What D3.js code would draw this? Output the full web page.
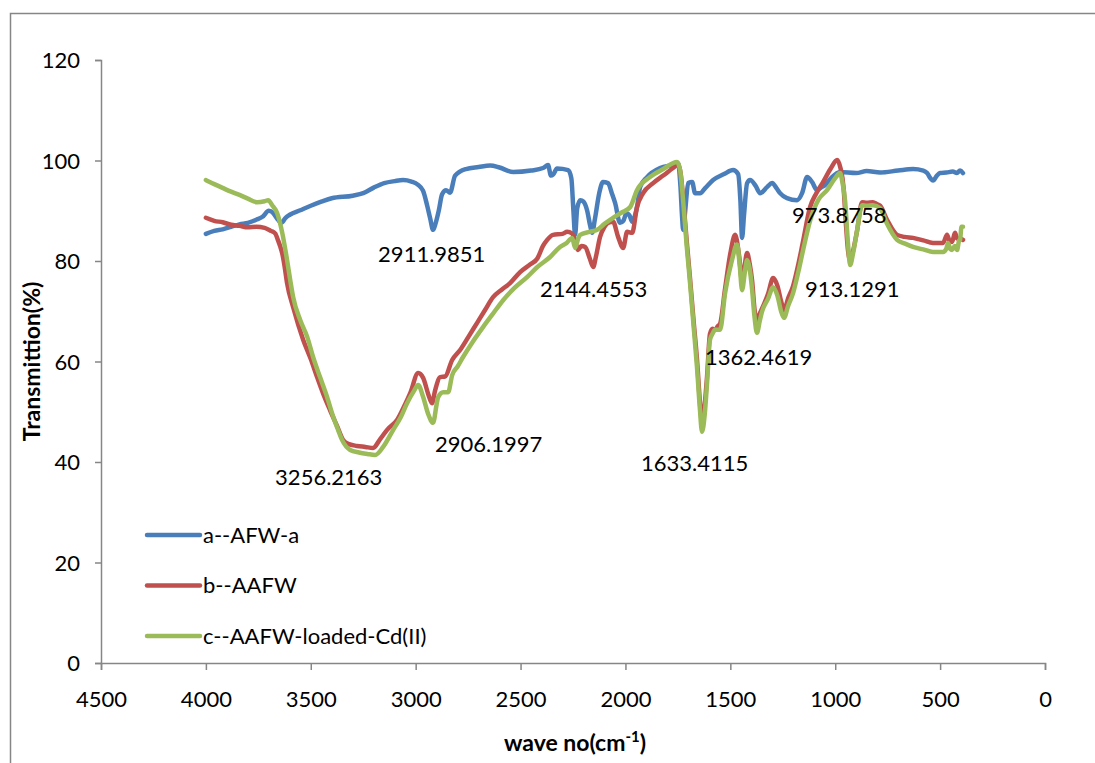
<!DOCTYPE html>
<html>
<head>
<meta charset="utf-8">
<script src="https://cdn.jsdelivr.net/npm/d3@7"></script>
<style>
    body { margin: 0; background: #fff; }
    text { font-family: Lato, "Noto Sans", sans-serif; fill: #000; }
</style>
</head>
<body>
<div id="chart"></div>
<script>
// FTIR spectra: [wave number, transmittion %]
const seriesNames = ["a--AFW-a", "b--AAFW", "c--AAFW-loaded-Cd(II)"];
const seriesColors = ["#4A7EBB", "#C0504D", "#9BBB59"];

const afwA = [
    [4000, 85.4], [3960, 86.0], [3920, 86.3], [3880, 86.8], [3840, 87.3], [3800, 87.6], [3760, 88.2],
    [3730, 88.8], [3700, 90.0], [3680, 89.6], [3660, 88.4], [3640, 87.6], [3620, 88.6], [3600, 89.2],
    [3550, 90.1], [3500, 91.0], [3450, 91.8], [3400, 92.5], [3300, 93.0], [3250, 93.5], [3200, 94.6],
    [3150, 95.5], [3100, 95.9], [3060, 96.1], [3020, 95.8], [2990, 95.2], [2965, 94.0], [2945, 91.0],
    [2931, 88.5], [2917, 86.2], [2905, 87.5], [2890, 90.0], [2874, 93.3], [2855, 94.1], [2836, 93.6],
    [2812, 97.0], [2760, 98.3], [2700, 98.7], [2645, 99.0], [2600, 98.6], [2535, 97.7], [2450, 98.0],
    [2393, 98.5], [2369, 99.1], [2355, 97.0], [2345, 97.2], [2326, 98.4], [2273, 98.1], [2258, 96.5],
    [2248, 90.0], [2240, 85.2], [2230, 90.5], [2215, 92.1], [2200, 91.8], [2183, 90.1], [2168, 87.0],
    [2159, 85.6], [2145, 88.5], [2125, 93.5], [2107, 95.7], [2083, 95.5], [2065, 93.5], [2049, 91.5],
    [2026, 87.6], [2010, 88.0], [1995, 89.5], [1980, 89.0], [1968, 87.8], [1955, 89.0], [1945, 90.7],
    [1930, 94.7], [1897, 96.7], [1835, 98.5], [1773, 99.1], [1749, 99.4], [1738, 95.0], [1730, 88.8],
    [1725, 86.2], [1715, 90.0], [1701, 95.5], [1682, 95.7], [1668, 93.5], [1644, 93.5], [1620, 94.5],
    [1582, 96.1], [1530, 97.3], [1487, 98.1], [1463, 97.3], [1452, 92.0], [1444, 84.6], [1435, 89.0],
    [1420, 95.5], [1406, 96.1], [1380, 95.0], [1358, 93.5], [1325, 94.7], [1301, 95.5], [1280, 94.5],
    [1263, 93.5], [1230, 92.5], [1182, 92.1], [1158, 93.5], [1134, 96.7], [1110, 95.7], [1087, 94.1],
    [1065, 94.7], [1049, 95.1], [1020, 96.5], [977, 97.7], [900, 97.5], [850, 97.9], [786, 97.6],
    [700, 98.0], [629, 98.3], [580, 98.0], [562, 97.5], [545, 96.4], [534, 96.0], [515, 97.0],
    [500, 97.5], [470, 97.6], [440, 97.8], [420, 97.5], [405, 98.0], [391, 97.5]
];

const aafw = [
    [4000, 88.6], [3960, 88.0], [3920, 87.7], [3880, 87.2], [3840, 87.0], [3800, 86.7], [3760, 86.8],
    [3720, 86.6], [3690, 86.0], [3670, 85.5], [3655, 84.0], [3645, 82.8], [3636, 81.5], [3625, 79.0],
    [3613, 75.6], [3584, 70.8], [3536, 64.3], [3500, 60.5], [3470, 56.9], [3440, 53.5], [3408, 50.3],
    [3375, 47.2], [3346, 44.4], [3322, 43.6], [3280, 43.2], [3240, 43.0], [3203, 42.8], [3170, 44.5],
    [3136, 46.4], [3088, 48.4], [3050, 51.5], [3026, 53.7], [2988, 57.7], [2964, 56.7], [2940, 53.5],
    [2922, 51.7], [2907, 54.3], [2883, 56.9], [2860, 57.0], [2826, 60.3], [2788, 62.3], [2750, 64.8],
    [2707, 67.7], [2670, 70.2], [2631, 72.8], [2590, 74.3], [2550, 75.6], [2502, 77.8], [2455, 79.3],
    [2420, 80.5], [2393, 83.0], [2373, 84.2], [2345, 85.2], [2300, 85.4], [2278, 85.8], [2255, 85.5],
    [2240, 84.2], [2226, 82.2], [2210, 83.0], [2192, 82.8], [2170, 80.5], [2154, 78.8], [2140, 81.0],
    [2121, 84.8], [2100, 86.8], [2083, 87.6], [2059, 87.8], [2035, 84.8], [2011, 82.6], [1992, 85.8],
    [1968, 85.6], [1945, 90.7], [1916, 93.5], [1868, 95.5], [1820, 97.0], [1773, 98.5], [1749, 99.2],
    [1737, 97.5], [1725, 92.5], [1708, 84.0], [1692, 76.5], [1675, 68.0], [1659, 60.5], [1645, 52.0],
    [1635, 48.0], [1622, 51.5], [1611, 57.0], [1597, 65.5], [1585, 66.5], [1573, 66.3], [1560, 67.0],
    [1549, 67.5], [1525, 74.5], [1500, 81.5], [1477, 85.2], [1458, 81.0], [1444, 76.0], [1432, 79.0],
    [1420, 81.6], [1408, 79.5], [1396, 76.0], [1385, 70.5], [1373, 67.9], [1360, 69.5], [1349, 70.5],
    [1320, 73.5], [1296, 76.6], [1275, 75.0], [1258, 72.0], [1244, 70.2], [1225, 72.5], [1201, 75.0],
    [1175, 79.5], [1153, 84.0], [1120, 90.7], [1090, 93.5], [1058, 95.7], [1020, 98.5], [991, 100.1],
    [975, 98.5], [960, 94.5], [950, 88.0], [940, 82.5], [929, 80.2], [915, 82.0], [896, 86.0],
    [872, 91.7], [850, 91.6], [820, 91.7], [800, 91.3], [786, 91.0], [753, 88.2], [705, 85.2],
    [670, 84.8], [629, 84.6], [580, 84.1], [534, 83.6], [486, 83.6], [467, 85.2], [455, 84.0],
    [443, 83.8], [429, 85.6], [419, 84.5], [405, 84.5], [391, 84.2]
];

const aafwCd = [
    [4000, 96.1], [3960, 95.3], [3918, 94.5], [3880, 93.8], [3837, 93.1], [3800, 92.4], [3756, 91.7],
    [3720, 91.9], [3703, 92.1], [3684, 91.1], [3660, 89.5], [3636, 85.6], [3613, 80.2], [3598, 76.2],
    [3584, 72.8], [3550, 68.2], [3517, 64.9], [3489, 60.9], [3455, 56.8], [3422, 52.9], [3393, 49.0],
    [3370, 46.4], [3351, 44.4], [3312, 42.4], [3270, 41.9], [3230, 41.6], [3193, 41.4], [3155, 43.0],
    [3107, 46.4], [3070, 49.0], [3041, 51.7], [3010, 54.0], [2988, 55.3], [2964, 52.9], [2940, 49.5],
    [2917, 47.8], [2900, 51.5], [2893, 52.9], [2869, 53.9], [2845, 53.9], [2826, 57.3], [2800, 59.0],
    [2774, 60.9], [2730, 63.8], [2678, 66.9], [2630, 69.6], [2583, 72.2], [2530, 74.6], [2469, 76.8],
    [2420, 78.8], [2359, 80.8], [2312, 82.8], [2280, 83.6], [2254, 84.6], [2240, 82.6], [2225, 84.5],
    [2216, 85.2], [2170, 85.8], [2135, 86.2], [2100, 87.4], [2059, 88.6], [2020, 89.6], [1978, 90.7],
    [1945, 94.1], [1883, 96.7], [1820, 98.3], [1754, 99.7], [1740, 98.2], [1725, 92.0], [1708, 83.0],
    [1692, 75.6], [1675, 67.0], [1659, 58.9], [1645, 50.5], [1635, 46.0], [1622, 49.5], [1611, 55.7],
    [1597, 64.3], [1585, 65.5], [1573, 66.3], [1549, 66.3], [1525, 73.6], [1492, 80.2], [1468, 83.3],
    [1455, 79.0], [1444, 74.2], [1430, 78.0], [1420, 80.2], [1408, 78.5], [1396, 74.2], [1385, 69.0],
    [1373, 65.7], [1360, 68.0], [1349, 69.9], [1320, 72.5], [1296, 74.8], [1275, 73.0], [1258, 70.0],
    [1244, 68.7], [1225, 71.0], [1201, 73.6], [1175, 78.0], [1153, 82.2], [1120, 88.0], [1080, 92.2],
    [1039, 94.1], [1000, 96.5], [977, 97.5], [965, 95.5], [953, 92.0], [940, 84.0], [929, 79.2],
    [915, 81.5], [896, 86.0], [872, 91.1], [850, 91.0], [820, 91.1], [786, 90.5], [753, 87.4],
    [705, 84.2], [670, 83.5], [629, 82.8], [580, 82.3], [534, 81.8], [486, 81.8], [470, 82.5],
    [462, 83.6], [452, 82.4], [443, 82.2], [430, 83.0], [419, 82.2], [410, 84.0], [405, 84.2],
    [398, 86.8], [391, 86.8]
];

const xTicks = [4500, 4000, 3500, 3000, 2500, 2000, 1500, 1000, 500, 0];
const yTicks = [0, 20, 40, 60, 80, 100, 120];

// peak labels: text, and the wave number / transmittion where the label starts
const peakLabels = ["2911.9851", "2144.4553", "973.8758", "913.1291", "1362.4619", "1633.4115", "3256.2163", "2906.1997"];
const peakLabelAt = [[3179, 79.8], [2407, 72.8], [1206, 87.6], [1144, 72.8], [1621, 59.3], [1926, 38.2], [3670, 35.4], [2908, 42.0]];

const width = 1095, height = 763;
const margin = { top: 60, right: 50, bottom: 100, left: 101 };

const svg = d3.select("#chart")
    .append("svg")
    .attr("width", width)
    .attr("height", height);

// outer frame of the chart area
svg.append("rect")
    .attr("x", 10.5).attr("y", 13.5)
    .attr("width", 1200).attr("height", 900)
    .attr("fill", "none")
    .attr("stroke", "#868686")
    .attr("stroke-width", 1.5);

let x = d3.scaleLinear()
    .domain([4500, 0])
    .range([margin.left, width - margin.right]);
let y = d3.scaleLinear()
    .domain([0, 120])
    .range([height - margin.bottom, margin.top]);

// y axis
let yAxis = svg.append("g")
    .attr("transform", "translate(" + margin.left + ",0)")
    .call(d3.axisLeft(y).tickValues(yTicks).tickSize(6).tickPadding(15));
yAxis.selectAll("text").style("font-size", "22px").attr("dy", "0.35em");

// x axis
let xAxis = svg.append("g")
    .attr("transform", "translate(0," + (height - margin.bottom) + ")")
    .call(d3.axisBottom(x).tickValues(xTicks).tickSize(7).tickPadding(21).tickFormat(d3.format("d")));
xAxis.selectAll("text").style("font-size", "22px");

svg.selectAll(".domain, .tick line")
    .attr("stroke", "#868686")
    .attr("stroke-width", 1.5);

// axis titles
svg.append("text")
    .attr("transform", "translate(40," + y(60) + ")rotate(-90)")
    .attr("text-anchor", "middle")
    .style("font-size", "23px")
    .style("font-weight", "bold")
    .text("Transmittion(%)");

let xTitle = svg.append("text")
    .attr("x", 575)
    .attr("y", 751)
    .attr("text-anchor", "middle")
    .style("font-size", "23px")
    .style("font-weight", "bold");
xTitle.append("tspan").text("wave no(cm");
xTitle.append("tspan").attr("dy", -9).style("font-size", "15px").text("-1");
xTitle.append("tspan").attr("dy", 9).text(")");

// lines
let line = d3.line()
    .x(d => x(d[0]))
    .y(d => y(d[1]))
    .curve(d3.curveMonotoneX);

[afwA, aafw, aafwCd].forEach((data, i) => {
    svg.append("path")
        .datum(data)
        .attr("fill", "none")
        .attr("stroke", seriesColors[i])
        .attr("stroke-width", 4.5)
        .attr("stroke-linejoin", "round")
        .attr("stroke-linecap", "round")
        .attr("d", line);
});

// peak annotations
svg.selectAll(".peak")
    .data(peakLabels)
    .enter()
    .append("text")
    .attr("class", "peak")
    .attr("x", (d, i) => x(peakLabelAt[i][0]))
    .attr("y", (d, i) => y(peakLabelAt[i][1]))
    .style("font-size", "22px")
    .text(d => d);

// legend
let legend = svg.selectAll(".legend")
    .data(seriesNames)
    .enter()
    .append("g")
    .attr("class", "legend")
    .attr("transform", (d, i) => "translate(147," + (535 + i * 50.5) + ")");
legend.append("line")
    .attr("x1", 0).attr("x2", 53)
    .attr("stroke", (d, i) => seriesColors[i])
    .attr("stroke-width", 4.5)
    .attr("stroke-linecap", "round");
legend.append("text")
    .attr("x", 56)
    .attr("dy", "0.36em")
    .style("font-size", "22px")
    .text(d => d);
</script>
</body>
</html>
